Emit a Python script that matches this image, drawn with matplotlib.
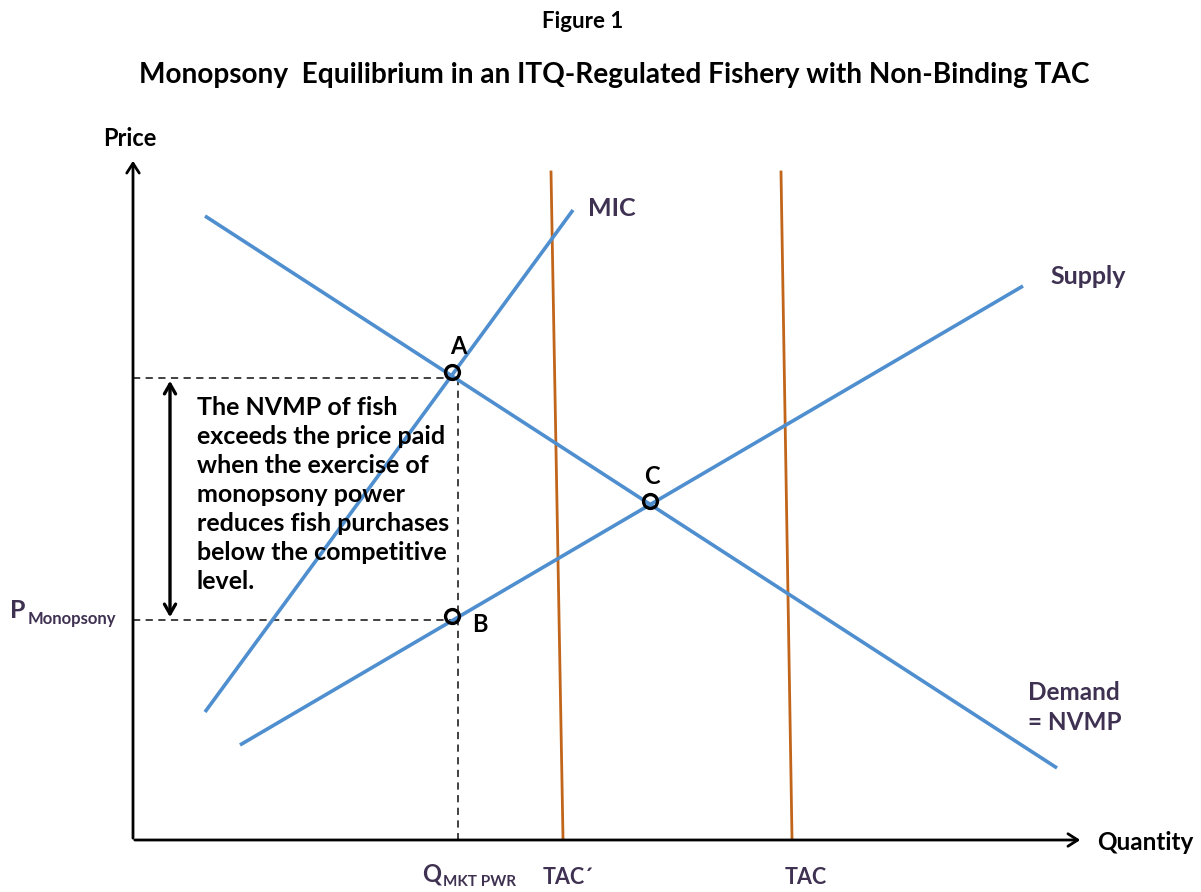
import matplotlib
matplotlib.use("Agg")
import matplotlib.pyplot as plt

plt.rcParams['font.family'] = ['Lato', 'DejaVu Sans']

# Curves (endpoints in chart units: x = quantity, y = price, pixel-like scale)
demand_x = [205, 1057]
demand_y = [216, 768]
mic_x = [205, 573]
mic_y = [712, 210]
supply_x = [240, 1023]
supply_y = [745, 286]
tac_prime_x = [551, 563]
tac_prime_y = [172, 838]
tac_x = [781, 792]
tac_y = [172, 838]

# Points
point_names = ['A', 'B', 'C']
point_x = [452, 452, 650]
point_y = [372, 616, 501]

q_mkt = 458
p_nvmp = 378
p_mono = 620

BLUE = '#4F8FCF'
ORANGE = '#C0651A'
PURPLE = '#3F3151'

fig = plt.figure(figsize=(12.01, 8.92), dpi=100)
ax = fig.add_axes([0, 0, 1, 1])
ax.set_xlim(0, 1201)
ax.set_ylim(892, 0)
ax.axis('off')

# Axes arrows
ax.annotate('', xy=(133, 158), xytext=(133, 841),
            arrowprops=dict(arrowstyle='->,head_width=0.45,head_length=0.7', lw=2, color='black'))
ax.annotate('', xy=(1083, 840), xytext=(132, 840),
            arrowprops=dict(arrowstyle='->,head_width=0.45,head_length=0.7', lw=2, color='black'))

# dashed guides
ax.plot([133, q_mkt], [p_nvmp, p_nvmp], ls=(0, (4, 3)), color='#333333', lw=1.3)
ax.plot([133, q_mkt], [p_mono, p_mono], ls=(0, (4, 3)), color='#333333', lw=1.3)
ax.plot([q_mkt, q_mkt], [p_nvmp, 840], ls=(0, (4, 3)), color='#333333', lw=1.3)

# TAC lines
ax.plot(tac_prime_x, tac_prime_y, color=ORANGE, lw=2)
ax.plot(tac_x, tac_y, color=ORANGE, lw=2)

# curves
ax.plot(demand_x, demand_y, color=BLUE, lw=2.6, solid_capstyle='butt')
ax.plot(mic_x, mic_y, color=BLUE, lw=2.6, solid_capstyle='butt')
ax.plot(supply_x, supply_y, color=BLUE, lw=2.6, solid_capstyle='butt')

# points
ax.plot(point_x, point_y, 'o', mfc='none', mec='black', mew=2.4, ms=10)
ax.text(point_x[0] + 6, point_y[0] - 25, 'A', fontsize=17, fontweight='bold', ha='center', va='center')
ax.text(point_x[1] + 28, point_y[1] + 9, 'B', fontsize=17, fontweight='bold', ha='center', va='center')
ax.text(point_x[2] + 2, point_y[2] - 25, 'C', fontsize=17, fontweight='bold', ha='center', va='center')

# double arrow
ax.annotate('', xy=(170, p_nvmp), xytext=(170, p_mono),
            arrowprops=dict(arrowstyle='<->,head_width=0.4,head_length=0.7', lw=2.4, color='black'))

body = ("The NVMP of fish\nexceeds the price paid\nwhen the exercise of\nmonopsony power\n"
        "reduces fish purchases\nbelow the competitive\nlevel.")
ax.text(197, 396, body, fontsize=18, fontweight='bold', ha='left', va='top', linespacing=1.32)

# titles
ax.text(583, 22, 'Figure 1', fontsize=16, fontweight='bold', ha='center', va='center')
ax.text(614, 75, 'Monopsony  Equilibrium in an ITQ-Regulated Fishery with Non-Binding TAC',
        fontsize=20.2, fontweight='bold', ha='center', va='center')

# axis labels
ax.text(130, 138, 'Price', fontsize=17, fontweight='bold', ha='center', va='center')
ax.text(1097, 843, 'Quantity', fontsize=17.5, fontweight='bold', ha='left', va='center')

# curve labels
ax.text(588, 208, 'MIC', fontsize=18, fontweight='bold', ha='left', va='center', color=PURPLE)
ax.text(1050, 277, 'Supply', fontsize=18, fontweight='bold', ha='left', va='center', color=PURPLE)
ax.text(1028, 692, 'Demand', fontsize=17.5, fontweight='bold', ha='left', va='center', color=PURPLE)
ax.text(1028, 722, '= NVMP', fontsize=17.5, fontweight='bold', ha='left', va='center', color=PURPLE)

# axis value labels
ax.text(10, 611, 'P', fontsize=18, fontweight='bold', ha='left', va='center', color=PURPLE)
ax.text(28, 619, 'Monopsony', fontsize=12, fontweight='bold', ha='left', va='center', color=PURPLE)
ax.text(422, 874, 'Q', fontsize=17, fontweight='bold', ha='left', va='center', color=PURPLE)
ax.text(443, 882, 'MKT PWR', fontsize=11, fontweight='bold', ha='left', va='center', color=PURPLE)
ax.text(543, 877, 'TAC\u00b4', fontsize=15.5, fontweight='bold', ha='left', va='center', color=PURPLE)
ax.text(785, 877, 'TAC', fontsize=15.5, fontweight='bold', ha='left', va='center', color=PURPLE)

fig.savefig('out.png', dpi=100)
